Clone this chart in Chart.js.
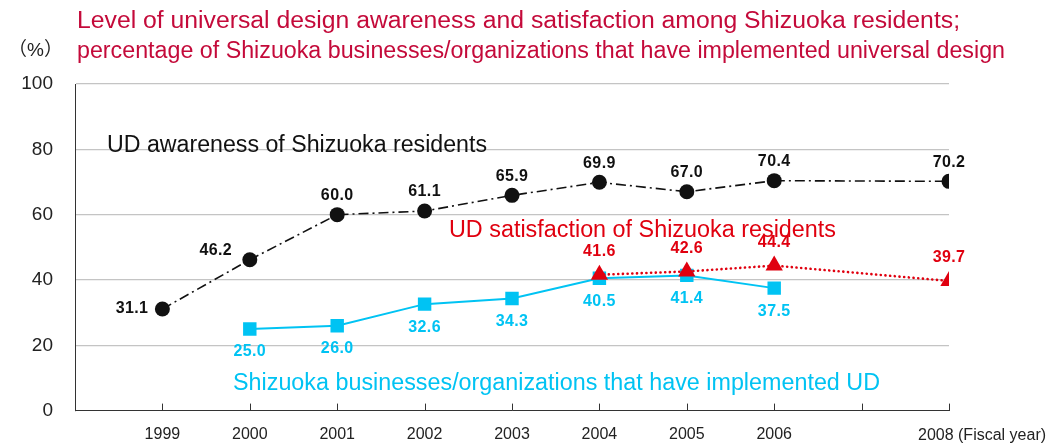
<!DOCTYPE html>
<html><head><meta charset="utf-8">
<script src="https://cdn.jsdelivr.net/npm/chart.js@4/dist/chart.umd.min.js"></script>
<style>html,body{margin:0;padding:0;background:#fff}#wrap{width:1053px;height:444px;position:relative}</style>
</head><body><div id="wrap"><canvas id="c" width="1053" height="444"></canvas></div>
<script>
const titleLines = [
  "Level of universal design awareness and satisfaction among Shizuoka residents;",
  "percentage of Shizuoka businesses/organizations that have implemented universal design"
];
const yTicks = [0, 20, 40, 60, 80, 100];
const xTickYears = [1999, 2000, 2001, 2002, 2003, 2004, 2005, 2006, 2007, 2008];
const labelledYears = [1999, 2000, 2001, 2002, 2003, 2004, 2005, 2006, 2008];
const lastYearLabel = "2008 (Fiscal year)";

const awarenessYears = [1999, 2000, 2001, 2002, 2003, 2004, 2005, 2006, 2008];
const awarenessValues = [31.1, 46.2, 60.0, 61.1, 65.9, 69.9, 67.0, 70.4, 70.2];

const satisfactionYears = [2004, 2005, 2006, 2008];
const satisfactionValues = [41.6, 42.6, 44.4, 39.7];

const businessYears = [2000, 2001, 2002, 2003, 2004, 2005, 2006];
const businessValues = [25.0, 26.0, 32.6, 34.3, 40.5, 41.4, 37.5];

const seriesNames = [
  "UD awareness of Shizuoka residents",
  "UD satisfaction of Shizuoka residents",
  "Shizuoka businesses/organizations that have implemented UD"
];
const unitLabel = "（%）";

const FONT = "'Liberation Sans', Arial, Helvetica, sans-serif";
const BLACK = '#111111', RED = '#e0000f', BLUE = '#00c3f3', TITLE = '#c40a3a';

const pts = (xs, ys) => xs.map((x, i) => ({x, y: ys[i]}));

// draw left-aligned text horizontally scaled to a target width
function fitText(ctx, text, x, y, width) {
  const w = ctx.measureText(text).width;
  const s = width / w;
  ctx.save();
  ctx.translate(x, y);
  ctx.scale(s, 1);
  ctx.fillText(text, 0, 0);
  ctx.restore();
}

const labelPlugin = {
  id: 'labels',
  afterDatasetsDraw(chart) {
    const ctx = chart.ctx;
    ctx.save();
    ctx.font = 'bold 16px ' + FONT;
    ctx.textBaseline = 'middle';
    ctx.letterSpacing = '0.4px';
    chart.data.datasets.forEach((ds, di) => {
      const meta = chart.getDatasetMeta(di);
      meta.data.forEach((el, i) => {
        const v = ds.data[i].y.toFixed(1);
        let x = el.x, y = el.y, align = 'center';
        if (di === 0) {
          if (i === 0) { x -= 14; align = 'right'; }
          else if (i === 1) { x -= 34; y -= 9; }
          else { y -= 19; }
        } else if (di === 1) {
          y -= 23;
        } else {
          y += 23;
        }
        ctx.fillStyle = ds.borderColor;
        ctx.textAlign = align;
        ctx.fillText(v, x, y);
      });
    });
    ctx.restore();
  }
};

const decoPlugin = {
  id: 'deco',
  afterDraw(chart) {
    const ctx = chart.ctx, xs = chart.scales.x, ca = chart.chartArea;
    ctx.save();
    // inward x ticks
    ctx.strokeStyle = '#333'; ctx.lineWidth = 1;
    xTickYears.forEach(yr => {
      const px = Math.round(xs.getPixelForValue(yr)) + 0.5;
      ctx.beginPath(); ctx.moveTo(px, ca.bottom - 7); ctx.lineTo(px, ca.bottom); ctx.stroke();
    });
    ctx.textAlign = 'left'; ctx.textBaseline = 'middle';
    // title
    ctx.fillStyle = TITLE; ctx.font = '23px ' + FONT;
    fitText(ctx, titleLines[0], 77, 22, 883);
    fitText(ctx, titleLines[1], 77, 52, 928);
    // unit
    ctx.fillStyle = '#222'; ctx.font = "19px " + FONT + ", 'Noto Sans CJK JP'";
    ctx.fillText(unitLabel, 8, 51);
    // last year tick label with unit
    ctx.font = '16px ' + FONT;
    ctx.fillText(lastYearLabel, xs.getPixelForValue(2008) - 31, 436);
    // series annotations
    ctx.font = '23px ' + FONT;
    ctx.fillStyle = BLACK; fitText(ctx, seriesNames[0], 107, 146, 380);
    ctx.fillStyle = RED; fitText(ctx, seriesNames[1], 449, 231, 387);
    ctx.fillStyle = BLUE; fitText(ctx, seriesNames[2], 233, 384, 647);
    ctx.restore();
  }
};

new Chart(document.getElementById('c'), {
  type: 'line',
  data: {
    datasets: [
      {
        label: seriesNames[0], data: pts(awarenessYears, awarenessValues),
        borderColor: BLACK, backgroundColor: BLACK, borderWidth: 1.6,
        borderDash: [10, 4, 2, 4], pointStyle: 'circle', pointRadius: 7.5,
        pointBorderWidth: 0, tension: 0
      },
      {
        label: seriesNames[1], data: pts(satisfactionYears, satisfactionValues),
        borderColor: RED, backgroundColor: RED, borderWidth: 2.6,
        borderDash: [0.1, 4.6], borderCapStyle: 'round', pointStyle: 'triangle',
        pointRadius: 10, pointBorderWidth: 0, tension: 0
      },
      {
        label: seriesNames[2], data: pts(businessYears, businessValues),
        borderColor: BLUE, backgroundColor: BLUE, borderWidth: 2,
        pointStyle: 'rect', pointRadius: 9.5, pointBorderWidth: 0, tension: 0
      }
    ]
  },
  options: {
    responsive: false, animation: false,
    layout: { padding: { left: 0, right: 104, top: 84, bottom: 0 } },
    plugins: { legend: { display: false }, tooltip: { enabled: false }, title: { display: false } },
    scales: {
      x: {
        type: 'linear', min: 1998, max: 2008,
        afterFit(a) { a.height = 32; },
        afterBuildTicks(a) { a.ticks = labelledYears.map(v => ({value: v})); },
        ticks: { color: '#222', font: { family: FONT, size: 16 }, padding: 14, maxRotation: 0, autoSkip: false,
                 callback: v => (v === 2008 ? '' : String(v)) },
        grid: { display: false, drawTicks: false },
        border: { display: true, color: '#333', width: 1 }
      },
      y: {
        min: 0, max: 100,
        afterFit(a) { a.width = 75; },
        afterBuildTicks(a) { a.ticks = yTicks.map(v => ({value: v})); },
        ticks: { color: '#222', font: { family: FONT, size: 19 }, padding: 22 },
        grid: { drawTicks: false, color: c => (c.tick && c.tick.value === 0) ? 'rgba(0,0,0,0)' : '#c4c4c4', lineWidth: 1.2 },
        border: { display: true, color: '#333', width: 1 }
      }
    }
  },
  plugins: [labelPlugin, decoPlugin]
});
</script></body></html>
